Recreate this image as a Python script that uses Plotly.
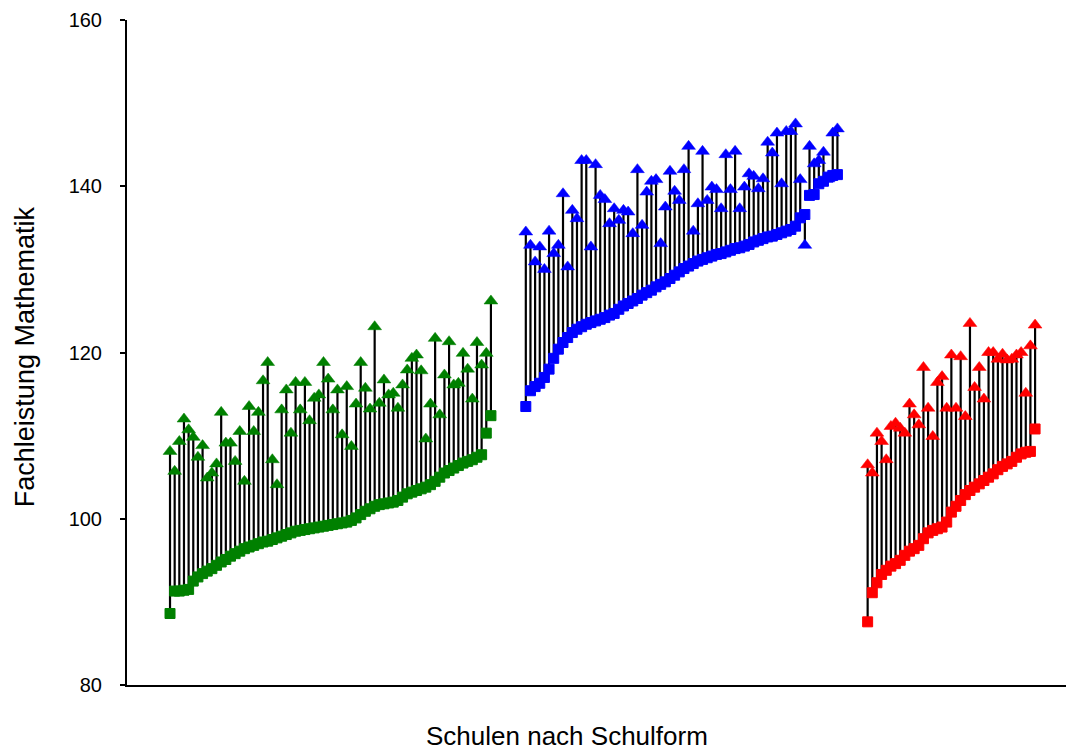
import plotly.graph_objects as go

# ---------------- data ----------------
group_names = ["Gruppe grün", "Gruppe blau", "Gruppe rot"]

green_bottom = [88.6, 91.3, 91.3, 91.4, 91.5, 92.5, 93.0, 93.4, 93.7, 94.0,
                94.4, 94.8, 95.1, 95.5, 95.8, 96.1, 96.4, 96.6, 96.8, 97.0,
                97.2, 97.3, 97.5, 97.7, 97.9, 98.1, 98.3, 98.5, 98.6, 98.7,
                98.8, 98.9, 99.0, 99.1, 99.2, 99.3, 99.4, 99.5, 99.6, 99.8,
                100.1, 100.5, 100.9, 101.2, 101.5, 101.7, 101.8, 101.9, 102.0, 102.2,
                102.6, 103.0, 103.2, 103.4, 103.6, 103.8, 104.1, 104.5, 105.0, 105.5,
                105.8, 106.1, 106.4, 106.7, 106.9, 107.1, 107.4, 107.7, 110.3, 112.4]
green_top = [108.1, 105.7, 109.3, 112.0, 110.7, 109.8, 107.4, 108.8, 104.9, 105.5,
             106.6, 112.8, 109.1, 109.1, 106.9, 110.5, 104.5, 113.5, 110.5, 112.8,
             116.6, 118.8, 107.1, 104.1, 113.1, 115.5, 110.3, 116.4, 113.1, 116.4,
             111.8, 114.5, 114.9, 118.8, 116.8, 113.1, 115.5, 110.1, 115.9, 108.7,
             113.8, 118.8, 115.7, 113.2, 123.1, 113.9, 116.7, 114.9, 115.1, 113.3,
             116.1, 117.9, 119.3, 119.7, 117.8, 109.6, 113.8, 121.7, 112.5, 117.3,
             121.3, 116.1, 116.3, 119.9, 118.0, 114.4, 121.2, 118.5, 119.9, 126.2]

blue_bottom = [113.5, 115.4, 115.9, 116.3, 117.0, 118.0, 119.3, 120.4, 121.2, 121.8,
               122.4, 122.8, 123.1, 123.4, 123.6, 123.8, 124.0, 124.2, 124.5, 124.7,
               125.2, 125.6, 125.9, 126.2, 126.5, 126.9, 127.2, 127.5, 127.9, 128.2,
               128.5, 128.9, 129.3, 129.7, 130.1, 130.4, 130.7, 131.0, 131.2, 131.4,
               131.6, 131.8, 131.9, 132.1, 132.3, 132.5, 132.6, 132.8, 133.0, 133.3,
               133.5, 133.7, 133.9, 134.0, 134.2, 134.4, 134.6, 134.8, 135.2, 136.2,
               136.6, 138.9, 139.0, 140.3, 140.6, 141.1, 141.3, 141.4]
blue_top = [134.5, 132.9, 130.9, 132.7, 130.0, 134.6, 131.9, 132.9, 139.1, 130.3,
            137.1, 136.1, 143.1, 143.1, 132.7, 142.6, 138.9, 138.4, 135.5, 137.3,
            135.9, 137.1, 136.9, 134.3, 142.0, 135.3, 139.3, 140.6, 140.8, 133.1,
            137.5, 141.8, 139.4, 138.3, 142.0, 144.8, 134.6, 137.9, 144.2, 138.3,
            139.9, 139.6, 137.3, 143.8, 139.6, 144.2, 137.3, 139.9, 141.5, 141.2,
            139.7, 140.9, 145.3, 144.0, 146.4, 140.3, 146.6, 146.6, 147.5, 140.8,
            132.9, 144.8, 142.7, 143.1, 144.1, 140.9, 146.4, 146.9]

red_bottom = [87.6, 91.1, 92.3, 93.3, 93.8, 94.3, 94.6, 95.0, 95.6, 96.1,
              96.4, 96.8, 97.6, 98.3, 98.6, 98.8, 99.0, 99.6, 100.8, 101.5,
              102.2, 102.9, 103.4, 103.8, 104.2, 104.6, 105.0, 105.4, 105.9, 106.3,
              106.6, 106.9, 107.4, 107.8, 108.0, 108.1, 110.8]
red_top = [106.5, 105.5, 110.3, 109.3, 107.1, 111.1, 111.5, 110.9, 110.3, 113.8,
           112.5, 111.3, 118.2, 113.3, 109.9, 116.4, 117.1, 113.3, 119.7, 113.3,
           119.5, 112.3, 123.5, 115.8, 118.2, 114.4, 120.0, 120.0, 119.2, 119.8,
           119.1, 119.2, 119.7, 120.0, 115.1, 120.8, 123.3]

y_ticks = [80, 100, 120, 140, 160]
y_title = "Fachleistung Mathematik"
x_title = "Schulen nach Schulform"

# ---------------- layout / style constants ----------------
group_colors = ["#008000", "#0000FF", "#FF0000"]
group_start = [0.0, 76.5, 150.0]   # slot where each school type starts on the category axis
FONT = "Liberation Sans, Arial, Helvetica, sans-serif"

groups = [(green_bottom, green_top), (blue_bottom, blue_top), (red_bottom, red_top)]

fig = go.Figure()

# stems (black vertical lines)
for (bottom, top), start in zip(groups, group_start):
    xs, ys = [], []
    for i, (b, t) in enumerate(zip(bottom, top)):
        xs += [start + i, start + i, None]
        ys += [b, t, None]
    fig.add_trace(go.Scatter(x=xs, y=ys, mode="lines",
                             line=dict(color="black", width=2.2),
                             hoverinfo="skip", showlegend=False))

# square markers (bottom) and triangles (top)
for (bottom, top), start, col, name in zip(groups, group_start, group_colors, group_names):
    xs = [start + i for i in range(len(bottom))]
    fig.add_trace(go.Scatter(x=xs, y=bottom, mode="markers", name=name,
                             marker=dict(symbol="square", size=10, color=col,
                                         line=dict(color=col, width=1)),
                             showlegend=False))
for (bottom, top), start, col, name in zip(groups, group_start, group_colors, group_names):
    xs = [start + i for i in range(len(top))]
    fig.add_trace(go.Scatter(x=xs, y=top, mode="markers", name=name,
                             marker=dict(symbol="triangle-up", size=12, color=col,
                                         line=dict(color=col, width=0.5)),
                             showlegend=False))

fig.update_layout(
    width=1066, height=751,
    margin=dict(l=127, r=0, t=20, b=66),
    paper_bgcolor="white", plot_bgcolor="white",
    font=dict(family=FONT, color="black"),
    xaxis=dict(range=[-9.25, 192.65], showgrid=False, zeroline=False,
               showticklabels=False, ticks="", showline=True,
               linecolor="black", linewidth=2),
    yaxis=dict(range=[80, 160], tickvals=y_ticks, showgrid=False, zeroline=False,
               ticks="outside", ticklen=5, tickwidth=2, tickcolor="black",
               showline=True, linecolor="black", linewidth=2,
               tickfont=dict(size=20, family=FONT, color="black"),
               ticklabelstandoff=14),
    annotations=[
        dict(text=x_title, xref="paper", yref="paper", x=0.469, y=-0.076,
             xanchor="center", yanchor="middle", showarrow=False,
             font=dict(size=26, family=FONT, color="black")),
        dict(text=y_title, xref="paper", yref="paper", x=-0.1086, y=0.493,
             xanchor="center", yanchor="middle", showarrow=False, textangle=-90,
             font=dict(size=27, family=FONT, color="black")),
    ],
)

fig.write_html("out.html")
